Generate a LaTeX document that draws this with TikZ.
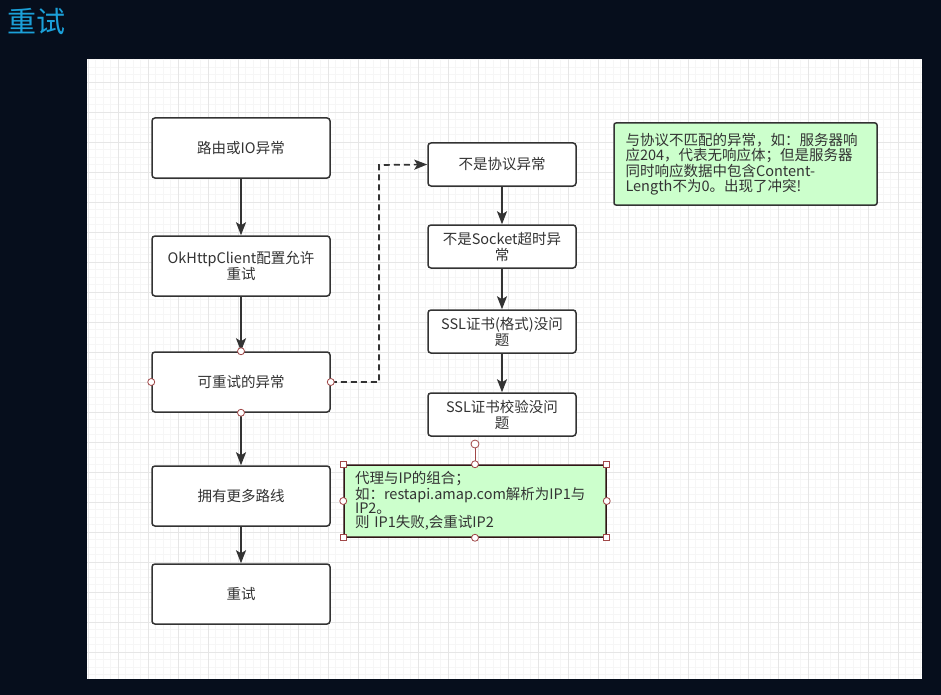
\documentclass[tikz,border=0pt]{standalone}
\usepackage{fontspec}
\setmainfont{Noto Sans CJK SC}
\usetikzlibrary{arrows.meta}
\definecolor{bgc}{HTML}{060E1C}
\definecolor{titlec}{HTML}{1BA0D8}
\definecolor{gridmin}{HTML}{F6F6F6}
\definecolor{gridmaj}{HTML}{E6E6E6}
\definecolor{linec}{HTML}{333333}
\definecolor{notefill}{HTML}{CCFFCC}
\definecolor{handlec}{HTML}{A04848}
\tikzset{
  stepbox/.style={draw=linec, line width=1.5pt, rounded corners=3pt, fill=white,
    text=linec, align=center, font=\fontsize{14.5}{16}\selectfont},
  leftbox/.style={stepbox, minimum width=178pt, minimum height=60pt, text width=170pt},
  rightbox/.style={stepbox, minimum width=148pt, minimum height=43pt, text width=144pt, inner sep=2pt},
  notebox/.style={draw=linec, line width=1.5pt, rounded corners=2pt, fill=notefill,
    text=linec, align=left, inner xsep=11pt, text width=240pt},
  flow/.style={draw=linec, line width=1.7pt, -{Stealth[length=13pt,width=10pt,inset=3pt]}},
  handle/.style={circle, draw=handlec, fill=white, line width=0.8pt, inner sep=0pt, minimum size=7pt},
  sqhandle/.style={rectangle, draw=handlec, fill=white, line width=0.8pt, inner sep=0pt, minimum size=6pt}
}
\begin{document}
\begin{tikzpicture}[x=1pt,y=-1pt]
\useasboundingbox (0,0) rectangle (941,695);
\fill[bgc] (0,0) rectangle (941,695);
\node[anchor=west, text=titlec, font=\fontsize{29}{29}\selectfont, inner sep=0pt] (title) at (7,22) {重试};
\fill[white] (87,59) rectangle (922,679);
\begin{scope}
\clip (87,59) rectangle (922,679);
\foreach \i in {0,...,112} {
  \draw[gridmin, line width=0.5pt] ({88+7.5*\i},59) -- ({88+7.5*\i},679);
}
\foreach \i in {0,...,83} {
  \draw[gridmin, line width=0.5pt] (87,{59.5+7.5*\i}) -- (922,{59.5+7.5*\i});
}
\foreach \i in {0,...,28} {
  \draw[gridmaj, line width=0.6pt] ({88+30*\i},59) -- ({88+30*\i},679);
}
\foreach \i in {0,...,20} {
  \draw[gridmaj, line width=0.6pt] (87,{82+30*\i}) -- (922,{82+30*\i});
}
\end{scope}

% left column
\node[leftbox] (b1) at (241,148) {路由或IO异常};
\node[leftbox] (b2) at (241,266) {OkHttpClient配置允许\\重试};
\node[leftbox] (b3) at (241,382) {可重试的异常};
\node[leftbox] (b4) at (241,496) {拥有更多路线};
\node[leftbox] (b5) at (241,594) {重试};

% right column
\node[rightbox] (r1) at (502,164.5) {不是协议异常};
\node[rightbox] (r2) at (502,246.5) {不是Socket超时异\\常};
\node[rightbox] (r3) at (502,331.5) {SSL证书(格式)没问\\题};
\node[rightbox] (r4) at (502,414.5) {SSL证书校验没问\\题};

% notes
\node[notebox, minimum width=263pt, minimum height=82pt, font=\fontsize{14.5}{15.5}\selectfont] (n1) at (745.5,164)
  {与协议不匹配的异常，如：服务器响\\应204，代表无响应体；但是服务器\\同时响应数据中包含Content-\\Length不为0。出现了冲突!};
\node[notebox, minimum width=262pt, minimum height=72pt, font=\fontsize{14.5}{14}\selectfont, draw=black!70!handlec] (n2) at (475,501)
  {代理与IP的组合；\\如：restapi.amap.com解析为IP1与\\IP2。\\则 IP1失败,会重试IP2};

% connectors
\draw[flow] (b1) -- (b2);
\draw[flow] (b2) -- (b3);
\draw[flow] (b3) -- (b4);
\draw[flow] (b4) -- (b5);
\draw[flow] (r1) -- (r2);
\draw[flow] (r2) -- (r3);
\draw[flow] (r3) -- (r4);
\draw[flow, dash pattern=on 6pt off 4pt] (b3.east) -| (379,165) -- (r1.west);

% handles on b3
\node[handle] (h1) at (b3.north) {};
\node[handle] (h2) at (b3.south) {};
\node[handle] (h3) at (b3.west) {};
\node[handle] (h4) at (b3.east) {};

% handles on n2
\coordinate (rot) at (475,444);
\draw[handlec, line width=0.8pt] (rot) -- (n2.north);
\node[handle, minimum size=8pt] (hr) at (rot) {};
\node[handle] (g1) at (n2.north) {};
\node[handle] (g2) at (n2.south) {};
\node[handle] (g3) at (n2.west) {};
\node[handle] (g4) at (n2.east) {};
\node[sqhandle] (s1) at (n2.north west) {};
\node[sqhandle] (s2) at (n2.north east) {};
\node[sqhandle] (s3) at (n2.south west) {};
\node[sqhandle] (s4) at (n2.south east) {};
\end{tikzpicture}
\end{document}
